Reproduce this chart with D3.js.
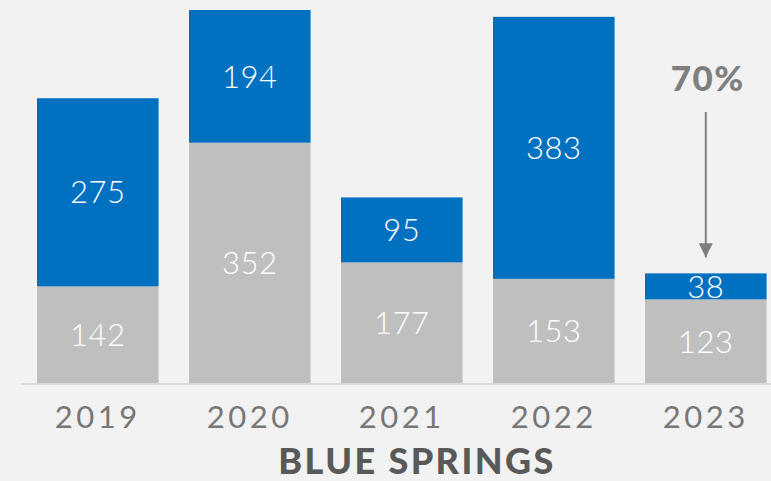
<!DOCTYPE html>
<html>
<head>
<meta charset="utf-8">
<script src="https://cdn.jsdelivr.net/npm/d3@7"></script>
<style>
  html, body { margin: 0; padding: 0; background: #f2f2f2; }
  svg { display: block; }
</style>
</head>
<body>
<svg id="chart" width="771" height="481"></svg>
<script>
// Yearly counts for Blue Springs, stacked: base segment (gray) and top segment (blue)
const years = ["2019", "2020", "2021", "2022", "2023"];
const baseValues = [142, 352, 177, 153, 123];
const topValues = [275, 194, 95, 383, 38];
const chartTitle = "BLUE SPRINGS";
const callout = { year: "2023", text: "70%" };

const W = 771, H = 481;
const colors = { base: "#bfbfbf", top: "#0070c0", axis: "#d9d9d9", year: "#777777", title: "#595959", callout: "#7f7f7f" };

const svg = d3.select("#chart");
svg.append("rect").attr("width", W).attr("height", H).attr("fill", "#f2f2f2");

const rows = years.map((y, i) => ({ year: y, base: baseValues[i], top: topValues[i] }));
const stack = d3.stack().keys(["base", "top"])(rows);

const x = d3.scaleBand().domain(years).range([21.8, 781.8]).paddingInner(0.2).paddingOuter(0.1);
const y = d3.scaleLinear().domain([0, 546]).range([383.5, 10]);

const font = "Lato, 'Open Sans', sans-serif";

// stacked segments
const layers = svg.selectAll("g.layer").data(stack).join("g")
  .attr("class", "layer")
  .attr("fill", d => colors[d.key]);

layers.selectAll("rect").data(d => d).join("rect")
  .attr("x", d => x(d.data.year))
  .attr("width", x.bandwidth())
  .attr("y", d => y(d[1]))
  .attr("height", d => y(d[0]) - y(d[1]));

// value labels centred in each segment
layers.selectAll("text").data(d => d).join("text")
  .attr("x", d => x(d.data.year) + x.bandwidth() / 2)
  .attr("y", d => (y(d[0]) + y(d[1])) / 2)
  .attr("dy", "0.36em")
  .attr("text-anchor", "middle")
  .attr("fill", "#ffffff")
  .attr("font-family", font)
  .attr("font-weight", 300)
  .attr("font-size", 31)
  .attr("letter-spacing", 0.5)
  .text(d => d[1] - d[0]);

// baseline axis with year labels
const axis = svg.append("g").attr("transform", `translate(0,${y(0)})`)
  .call(d3.axisBottom(x).tickSize(0).tickPadding(22));
axis.select(".domain").attr("d", `M21,0.5H${W}`).attr("stroke", colors.axis).attr("stroke-width", 2);
axis.selectAll(".tick text")
  .attr("fill", colors.year)
  .attr("font-family", font)
  .attr("font-weight", 400)
  .attr("font-size", 31)
  .attr("letter-spacing", 3.5)
  .attr("dy", "0.71em");

// chart title
svg.append("text")
  .attr("x", 417).attr("y", 474)
  .attr("text-anchor", "middle")
  .attr("fill", colors.title)
  .attr("font-family", font)
  .attr("font-weight", 900)
  .attr("font-size", 36)
  .attr("letter-spacing", 2.4)
  .text(chartTitle);

// callout arrow pointing at the last bar
const cx = x(callout.year) + x.bandwidth() / 2;
const ci = years.indexOf(callout.year);
const targetY = y(baseValues[ci] + topValues[ci]) - 16;
svg.append("defs").append("marker")
  .attr("id", "arrowhead")
  .attr("viewBox", "0 0 10 10")
  .attr("refX", 10).attr("refY", 5)
  .attr("markerWidth", 7).attr("markerHeight", 7)
  .attr("markerUnits", "strokeWidth")
  .attr("orient", "auto")
  .append("path").attr("d", "M0,0L10,5L0,10Z").attr("fill", colors.callout);

svg.append("line")
  .attr("x1", cx).attr("x2", cx)
  .attr("y1", 112).attr("y2", targetY)
  .attr("stroke", colors.callout).attr("stroke-width", 2)
  .attr("marker-end", "url(#arrowhead)");

svg.append("text")
  .attr("x", cx + 2).attr("y", 91)
  .attr("text-anchor", "middle")
  .attr("fill", colors.callout)
  .attr("font-family", font)
  .attr("font-weight", 900)
  .attr("font-size", 35)
  .attr("letter-spacing", 1.5)
  .text(callout.text);
</script>
</body>
</html>
